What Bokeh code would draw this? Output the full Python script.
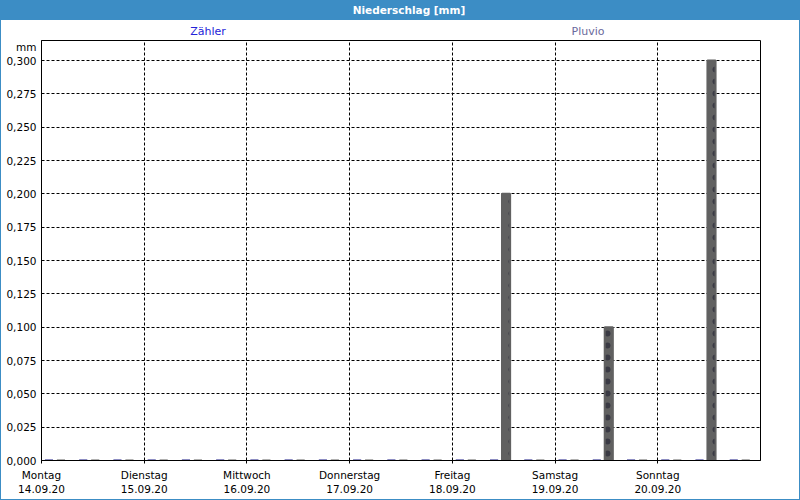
from bokeh.plotting import figure
from bokeh.models import (ColumnDataSource, FixedTicker, CustomJSTickFormatter,
                          Div, Range1d)
from bokeh.layouts import column
from bokeh.transform import dodge
from bokeh.embed import file_html
from bokeh.resources import INLINE

# ---- data ----
title_text = "Niederschlag [mm]"
unit_text = "mm"
series_names = ["Zähler", "Pluvio"]

# 8-hour slots (hours since Monday 00:00)
slot_hours = [0, 8, 16, 24, 32, 40, 48, 56, 64, 72, 80, 88, 96, 104, 112,
              120, 128, 136, 144, 152, 160]
zaehler = [0.0, 0.0, 0.0, 0.0, 0.0, 0.0, 0.0, 0.0, 0.0, 0.0, 0.0, 0.0, 0.0,
           0.0, 0.0, 0.0, 0.0, 0.0, 0.0, 0.0, 0.0]
pluvio = [0.0, 0.0, 0.0, 0.0, 0.0, 0.0, 0.0, 0.0, 0.0, 0.0, 0.0, 0.0, 0.0,
          0.2, 0.0, 0.0, 0.1, 0.0, 0.0, 0.3, 0.0]

day_hours = [0, 24, 48, 72, 96, 120, 144]
day_names = ["Montag", "Dienstag", "Mittwoch", "Donnerstag", "Freitag",
             "Samstag", "Sonntag"]
day_dates = ["14.09.20", "15.09.20", "16.09.20", "17.09.20", "18.09.20",
             "19.09.20", "20.09.20"]
y_ticks = [0.0, 0.025, 0.05, 0.075, 0.1, 0.125, 0.15, 0.175, 0.2, 0.225,
           0.25, 0.275, 0.3]
unit_tick = 0.3105   # where the unit "mm" sits on the value axis

# ---- styles ----
FONT = "DejaVu Sans"
BLUE_BAR = "#1a1a84"
GRAY_BAR = "#616161"
HEAD = "#3c8dc5"
SERIES_COLORS = ["#2323d8", "#6a6a9c"]

src = ColumnDataSource(dict(x=slot_hours, z=zaehler, p=pluvio))

p = figure(width=798, height=460, output_backend="svg", toolbar_location=None,
           x_range=Range1d(0, 168), y_range=Range1d(0, 0.315),
           min_border_left=40, min_border_right=39, min_border_top=1,
           min_border_bottom=39, background_fill_color="white",
           border_fill_color="white", margin=0)
p.outline_line_color = "black"
p.outline_line_width = 1

p.vbar(x=dodge("x", 1.75, range=p.x_range), top="z", bottom=0, width=1.9,
       source=src, fill_color=BLUE_BAR, line_color=BLUE_BAR, line_width=2)
p.vbar(x=dodge("x", 4.55, range=p.x_range), top="p", bottom=0, width=1.9,
       source=src, fill_color=GRAY_BAR, line_color=GRAY_BAR, line_width=2,
       hatch_pattern="dot", hatch_color="#3a3a44", hatch_scale=12,
       hatch_weight=1.0)

# axes
p.xaxis.ticker = FixedTicker(ticks=day_hours)
p.xaxis.major_label_overrides = {h: f"{n}\n{d}" for h, n, d in
                                 zip(day_hours, day_names, day_dates)}
p.yaxis.ticker = FixedTicker(ticks=y_ticks + [unit_tick])
p.yaxis.formatter = CustomJSTickFormatter(
    args=dict(unit=unit_text),
    code="if (tick > 0.305) return unit; return tick.toFixed(3).replace('.', ',');")
p.ygrid.ticker = FixedTicker(ticks=y_ticks)
p.xgrid.ticker = FixedTicker(ticks=day_hours)
for ax in (p.xaxis, p.yaxis):
    ax.axis_line_color = "black"
    ax.major_tick_line_color = "black"
    ax.minor_tick_line_color = None
    ax.major_tick_in = 0
    ax.major_label_text_font = FONT
    ax.major_label_text_font_size = "10.5px"
    ax.major_label_text_color = "black"
p.xaxis.major_tick_out = 3
p.yaxis.major_tick_out = 0
p.yaxis.major_label_standoff = 5
p.xaxis.major_label_standoff = 5

for g in (p.xgrid, p.ygrid):
    g.grid_line_color = "black"
    g.grid_line_dash = "3 2"
    g.grid_line_alpha = 1.0
    g.grid_line_width = 1

head_html = (
    f'<div style="position:relative;width:798px;height:38px;'
    f'font-family:\'{FONT}\';">'
    f'<div style="position:absolute;left:0;top:0;width:798px;height:19px;'
    f'background:{HEAD};color:white;font-weight:bold;font-size:10.5px;'
    f'line-height:19px;text-align:center;padding-left:18px;'
    f'box-sizing:border-box;">{title_text}</div>'
    f'<div style="position:absolute;left:157px;top:23px;width:100px;'
    f'text-align:center;font-size:11px;line-height:16px;'
    f'color:{SERIES_COLORS[0]};">{series_names[0]}</div>'
    f'<div style="position:absolute;left:537px;top:23px;width:100px;'
    f'text-align:center;font-size:11px;line-height:16px;'
    f'color:{SERIES_COLORS[1]};">{series_names[1]}</div>'
    f'</div>'
)
head = Div(text=head_html, width=798, height=38, margin=0)

layout = column(head, p, spacing=0,
                styles={"border": f"1px solid {HEAD}"})
open("out.html", "w").write(file_html(layout, INLINE))
